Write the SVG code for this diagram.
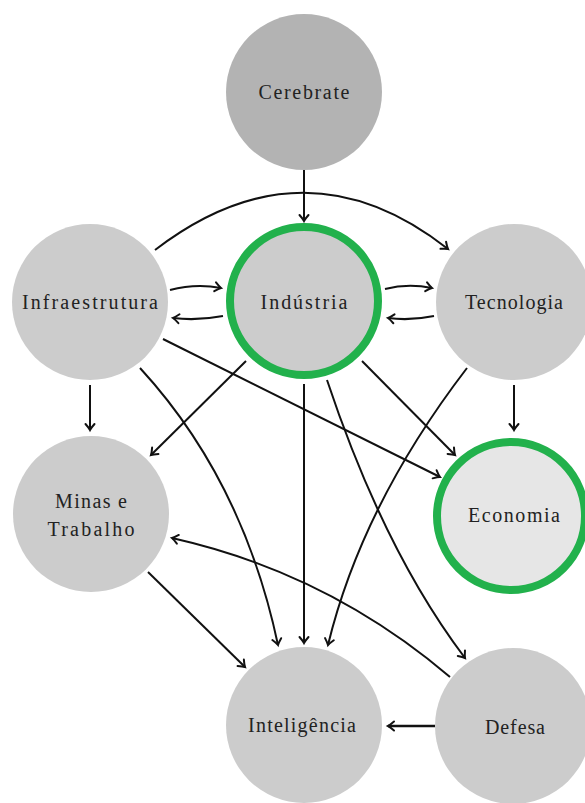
<svg xmlns="http://www.w3.org/2000/svg" width="585" height="803" viewBox="0 0 585 803">
<defs>
<style>
.n{fill:#cccccc}
.dark{fill:#b3b3b3}
.light{fill:#e6e6e6}
.hl{stroke:#22b14c;stroke-width:8}
.t{font-family:"Liberation Serif","DejaVu Serif",serif;font-size:20px;fill:#222222;text-anchor:middle}
.e{fill:none;stroke:#111111;stroke-width:2;marker-end:url(#ah)}
</style>
<marker id="ah" markerUnits="userSpaceOnUse" markerWidth="14" markerHeight="14" viewBox="-8 -7 10 14" refX="0" refY="0" orient="auto">
<path d="M-6,-4.5 Q-2,-1 0,0 Q-2,1 -6,4.5" fill="none" stroke="#111111" stroke-width="2" stroke-linecap="round"/>
</marker>
</defs>
<rect width="585" height="803" fill="#ffffff"/>
<g id="edges">
<path class="e" d="M304,170 L304,221"/>
<path class="e" d="M155,250 Q304,136 448,249"/>
<path class="e" d="M170,290 Q196,283 221,288"/>
<path class="e" d="M223,316 Q197,321 173,318"/>
<path class="e" d="M385,289 Q408,283 432,288"/>
<path class="e" d="M434,316 Q410,321 388,318"/>
<path class="e" d="M90,385 L90,430"/>
<path class="e" d="M246,361 L151,455"/>
<path class="e" d="M163,339 L440,477"/>
<path class="e" d="M140,368 Q243,480 278,645"/>
<path class="e" d="M304,384 L304,643"/>
<path class="e" d="M362,361 L455,455"/>
<path class="e" d="M327,380 Q384,551 465,658"/>
<path class="e" d="M467,368 Q362,505 328,645"/>
<path class="e" d="M514,385 L514,430"/>
<path class="e" d="M148,572 L245,667"/>
<path class="e" d="M450,677 Q328,573 172,538"/>
<path class="e" d="M435,726 L388,726" style="stroke-width:2.6"/>
</g>
<g id="cerebrate"><circle class="dark" cx="304" cy="92" r="78"/><text class="t" x="304" y="99" textLength="91" lengthAdjust="spacing">Cerebrate</text></g>
<g id="industria"><circle class="n hl" cx="304" cy="301" r="74"/><text class="t" x="304" y="309" textLength="87" lengthAdjust="spacing">Indústria</text></g>
<g id="infraestrutura"><circle class="n" cx="90" cy="302" r="78"/><text class="t" x="90" y="309" textLength="136" lengthAdjust="spacing">Infraestrutura</text></g>
<g id="tecnologia"><circle class="n" cx="514" cy="302" r="78"/><text class="t" x="514" y="309" textLength="98" lengthAdjust="spacing">Tecnologia</text></g>
<g id="minas"><circle class="n" cx="91" cy="514" r="78"/><text class="t" x="91" y="508" textLength="72" lengthAdjust="spacing">Minas e</text><text class="t" x="91" y="536" textLength="87" lengthAdjust="spacing">Trabalho</text></g>
<g id="economia"><circle class="light hl" cx="511" cy="516" r="74"/><text class="t" x="514" y="522" textLength="92" lengthAdjust="spacing">Economia</text></g>
<g id="inteligencia"><circle class="n" cx="304" cy="725" r="78"/><text class="t" x="302" y="732" textLength="108" lengthAdjust="spacing">Inteligência</text></g>
<g id="defesa"><circle class="n" cx="513" cy="726" r="78"/><text class="t" x="515" y="734" textLength="60" lengthAdjust="spacing">Defesa</text></g>
</svg>
